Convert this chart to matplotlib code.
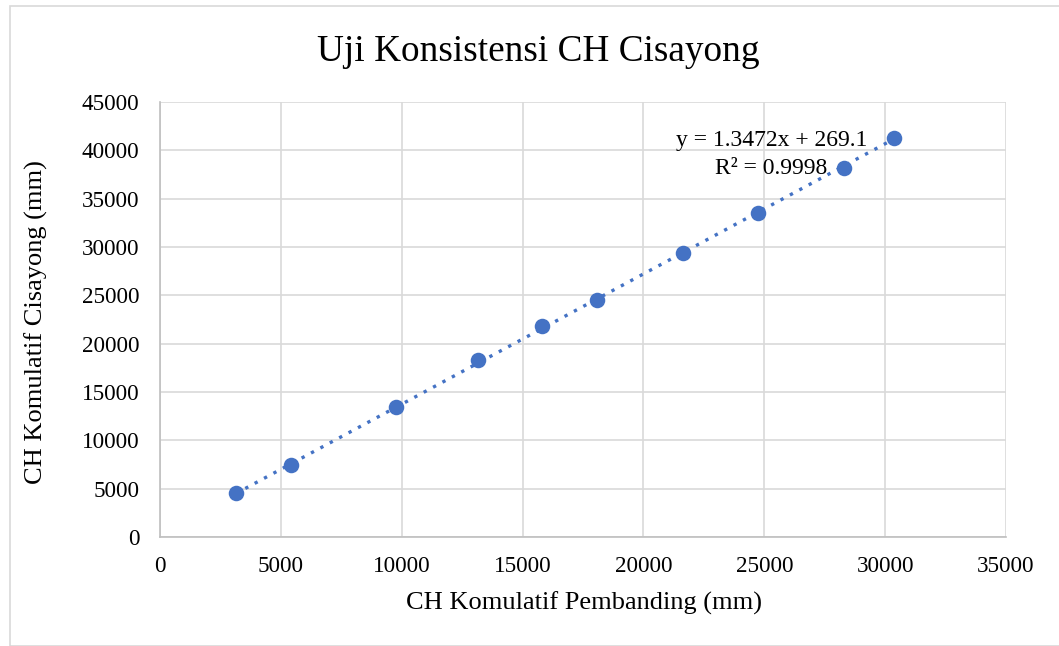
import matplotlib
matplotlib.use("Agg")
import matplotlib.pyplot as plt
import numpy as np
from matplotlib.patches import Rectangle

x_vals = [3140, 5420, 9760, 13160, 15800, 18080, 21640, 24740, 28300, 30370]
y_vals = [4550, 7450, 13450, 18310, 21830, 24520, 29380, 33520, 38170, 41270]
slope, intercept = 1.3472, 269.1
eq_text = "y = 1.3472x + 269.1\nR² = 0.9998"

plt.rcParams['font.family'] = ['Liberation Serif', 'DejaVu Serif']

W, H = 1059, 646
fig = plt.figure(figsize=(W / 100, H / 100), dpi=100)
ax = fig.add_axes([160 / W, (H - 537) / H, (1006 - 160) / W, (537 - 102) / H])

blue = '#4472C4'
xs = np.array([min(x_vals), max(x_vals)])
ax.plot(xs, slope * xs + intercept, linestyle=(0, (1, 2.2)), color=blue, lw=2.4, zorder=2)
ax.scatter(x_vals, y_vals, s=125, color=blue, zorder=3, linewidths=0)

ax.set_xlim(0, 35000)
ax.set_ylim(0, 45000)
ax.set_xticks(range(0, 35001, 5000))
ax.set_yticks(range(0, 45001, 5000))
ax.grid(True, color='#d9d9d9', lw=1.2, zorder=0)
ax.set_axisbelow(True)
for s in ['top', 'right']:
    ax.spines[s].set_visible(False)
for s in ['left', 'bottom']:
    ax.spines[s].set_color('#bfbfbf')
    ax.spines[s].set_linewidth(1.2)
ax.tick_params(axis='y', length=0, labelsize=16.7, pad=15)
ax.tick_params(axis='x', length=0, labelsize=16.7, pad=14)

fig.text(538 / W, 1 - 52 / H, "Uji Konsistensi CH Cisayong", fontsize=26.8, ha='center', va='center')
fig.text(584 / W, 1 - 603 / H, "CH Komulatif Pembanding (mm)", fontsize=19, ha='center', va='center')
fig.text(36 / W, 1 - 322 / H, "CH Komulatif Cisayong (mm)", fontsize=19, ha='center', va='center', rotation=90)

ax.text(25300, 39550, eq_text, fontsize=17, ha='center', va='center', linespacing=1.42)

fig.patches.append(Rectangle((10 / W, 0), 1.2, (H - 6) / H, transform=fig.transFigure,
                             fill=False, edgecolor='#d9d9d9', lw=1.2))

fig.savefig("out.png", dpi=100, facecolor='white')
